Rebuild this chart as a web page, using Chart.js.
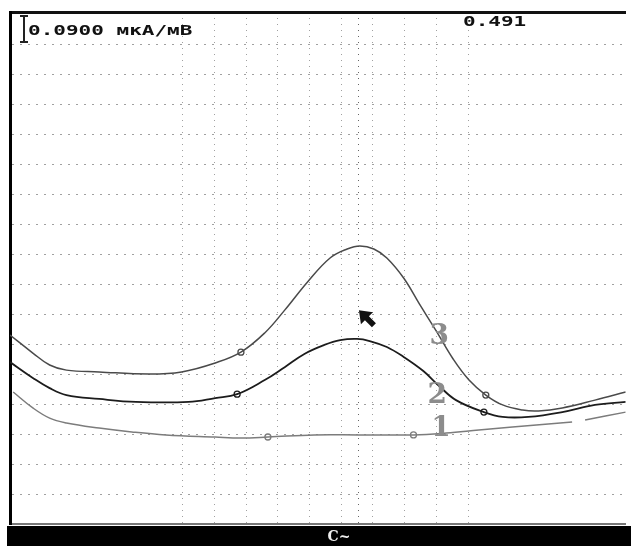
<!DOCTYPE html>
<html>
<head>
<meta charset="utf-8">
<script src="https://cdn.jsdelivr.net/npm/chart.js@4.4.0/dist/chart.umd.min.js"></script>
<style>
  html, body { margin: 0; padding: 0; background: #fff; }
  #wrap { position: relative; width: 631px; height: 546px; }
</style>
</head>
<body>
<div id="wrap"><canvas id="scope" width="631" height="546"></canvas></div>
<script>
// x in grid divisions from the left edge, y in grid divisions from the bottom
const curve3X = [0, 0.72, 1.25, 1.78, 2.81, 4.38, 5.41, 6.47, 7.28, 8.03, 8.66, 9.38, 10.09, 10.63, 11.03, 11.47, 11.88, 12.41, 12.91, 13.44, 13.97, 14.47, 15.0, 15.53, 16.16, 16.66, 17.41, 18.44, 19.41];
const curve3Y = [6.30, 5.70, 5.30, 5.13, 5.07, 5.00, 5.07, 5.37, 5.73, 6.37, 7.13, 8.07, 8.87, 9.17, 9.27, 9.17, 8.87, 8.20, 7.33, 6.43, 5.50, 4.80, 4.30, 3.97, 3.80, 3.77, 3.87, 4.13, 4.40];

const curve2X = [0, 0.72, 1.25, 1.78, 2.81, 3.97, 5.63, 6.47, 7.16, 8.03, 8.66, 9.28, 9.91, 10.41, 10.94, 11.34, 11.88, 12.41, 13.03, 13.53, 14.06, 14.94, 15.53, 16.34, 17.41, 18.44, 19.41];
const curve2Y = [5.40, 4.87, 4.53, 4.30, 4.17, 4.07, 4.07, 4.20, 4.33, 4.80, 5.23, 5.67, 5.97, 6.13, 6.17, 6.10, 5.90, 5.57, 5.10, 4.60, 4.13, 3.73, 3.57, 3.57, 3.73, 3.97, 4.07];

const curve1X = [0.1, 0.72, 1.25, 1.78, 2.81, 3.84, 4.91, 6.47, 7.28, 8.13, 9.59, 11.0, 12.72, 13.75, 14.78, 15.84, 17.72, 17.9, 18.13, 19.41];
const curve1Y = [4.40, 3.87, 3.53, 3.37, 3.20, 3.07, 2.97, 2.90, 2.87, 2.90, 2.97, 2.97, 2.97, 3.03, 3.13, 3.23, 3.40, null, 3.47, 3.73];

const markers3 = [[7.28, 5.73], [15.0, 4.30]];
const markers2 = [[7.16, 4.33], [14.94, 3.73]];
const markers1 = [[8.13, 2.90], [12.72, 2.97]];

const gridCols = [5.44, 6.44, 7.44, 8.44, 9.44, 10.44, 11.0, 11.44, 12.44, 13.44, 14.44];
const centerCol = 11.0;

const curveLabels = [
  { text: '3', x: 13.53, y: 6.23 },
  { text: '2', x: 13.47, y: 4.27 },
  { text: '1', x: 13.59, y: 3.17 }
];
const cursorAt = [11.0, 7.13];

const scaleText = '0.0900 мкА/мВ';
const readoutText = '0.491';
const footerText = 'C~';

const X_MAX = 19.41;
const Y_MAX = 17.07;

function pts(xs, ys) {
  return xs.map((x, i) => ({ x: x, y: ys[i] }));
}
function mpts(list) {
  return list.map(p => ({ x: p[0], y: p[1] }));
}

const lineStyle = (color, w) => ({
  showLine: true,
  borderColor: color,
  borderWidth: w,
  pointRadius: 0,
  tension: 0.4,
  spanGaps: false
});
const markStyle = color => ({
  showLine: false,
  pointStyle: 'circle',
  pointRadius: 3,
  pointBorderWidth: 1.3,
  pointBorderColor: color,
  pointBackgroundColor: '#fff'
});

const decor = {
  id: 'decor',
  afterDatasetsDraw(chart) {
    const c = chart.ctx;
    const xs = chart.scales.x, ys = chart.scales.y;
    c.save();
    // curve numbers
    c.fillStyle = '#8c8c8c';
    c.font = 'bold 28px "DejaVu Serif"';
    c.textAlign = 'center';
    c.textBaseline = 'middle';
    curveLabels.forEach(l => c.fillText(l.text, xs.getPixelForValue(l.x), ys.getPixelForValue(l.y)));
    // mouse cursor
    const cx = xs.getPixelForValue(cursorAt[0]), cy = ys.getPixelForValue(cursorAt[1]);
    c.fillStyle = '#111';
    c.beginPath();
    c.moveTo(cx, cy);
    c.lineTo(cx + 2, cy + 14);
    c.lineTo(cx + 6, cy + 10);
    c.lineTo(cx + 13, cy + 17);
    c.lineTo(cx + 17, cy + 13);
    c.lineTo(cx + 10, cy + 6);
    c.lineTo(cx + 14, cy + 2);
    c.closePath();
    c.fill();
    c.restore();
  },
  afterDraw(chart) {
    const c = chart.ctx;
    c.save();
    // scale bar
    c.strokeStyle = '#222';
    c.lineWidth = 2;
    c.beginPath();
    c.moveTo(24, 16); c.lineTo(24, 42);
    c.moveTo(20, 16); c.lineTo(28, 16);
    c.moveTo(20, 42); c.lineTo(28, 42);
    c.stroke();
    // header texts
    c.fillStyle = '#111';
    c.font = 'bold 14px "DejaVu Sans Mono"';
    c.textBaseline = 'alphabetic';
    c.save(); c.translate(28, 35); c.scale(1.5, 1); c.fillText(scaleText, 0, 0); c.restore();
    c.save(); c.translate(463, 26); c.scale(1.5, 1); c.fillText(readoutText, 0, 0); c.restore();
    // footer bar
    c.fillStyle = '#000';
    c.fillRect(7, 526, 624, 20);
    c.fillStyle = '#eee';
    c.font = 'bold 14px "DejaVu Serif"';
    c.textAlign = 'center';
    c.textBaseline = 'middle';
    c.fillText(footerText, 339, 537);
    c.restore();
  }
};

new Chart(document.getElementById('scope'), {
  type: 'scatter',
  data: {
    datasets: [
      Object.assign({ data: pts(curve3X, curve3Y) }, lineStyle('#4a4a4a', 1.5)),
      Object.assign({ data: pts(curve2X, curve2Y) }, lineStyle('#1c1c1c', 1.8)),
      Object.assign({ data: pts(curve1X, curve1Y) }, lineStyle('#7c7c7c', 1.5)),
      Object.assign({ data: mpts(markers3) }, markStyle('#4a4a4a')),
      Object.assign({ data: mpts(markers2) }, markStyle('#1c1c1c')),
      Object.assign({ data: mpts(markers1) }, markStyle('#7c7c7c'))
    ]
  },
  options: {
    responsive: false,
    animation: false,
    events: [],
    layout: { padding: { left: 10, top: 12, right: 0, bottom: 22 } },
    plugins: { legend: { display: false }, tooltip: { enabled: false } },
    scales: {
      x: {
        type: 'linear', min: 0, max: X_MAX,
        afterBuildTicks: s => { s.ticks = gridCols.map(v => ({ value: v })); },
        afterFit: s => { s.height = 0; },
        ticks: { display: false },
        grid: {
          drawTicks: false,
          color: ctx => ctx.tick && ctx.tick.value === centerCol ? '#666' : '#a0a0a0',
          lineWidth: 1
        },
        border: { display: true, color: '#777', width: 2, dash: [1, 5] }
      },
      xTop: {
        type: 'linear', position: 'top', min: 0, max: X_MAX,
        afterFit: s => { s.height = 0; },
        ticks: { display: false },
        grid: { display: false, drawTicks: false },
        border: { display: true, color: '#111', width: 3 }
      },
      y: {
        type: 'linear', min: 0, max: Y_MAX,
        afterFit: s => { s.width = 0; },
        ticks: { display: false, stepSize: 1 },
        grid: { drawTicks: false, color: '#a0a0a0', lineWidth: 1 },
        border: { display: true, color: '#000', width: 3, dash: [2, 6] }
      }
    }
  },
  plugins: [decor]
});
</script>
</body>
</html>
